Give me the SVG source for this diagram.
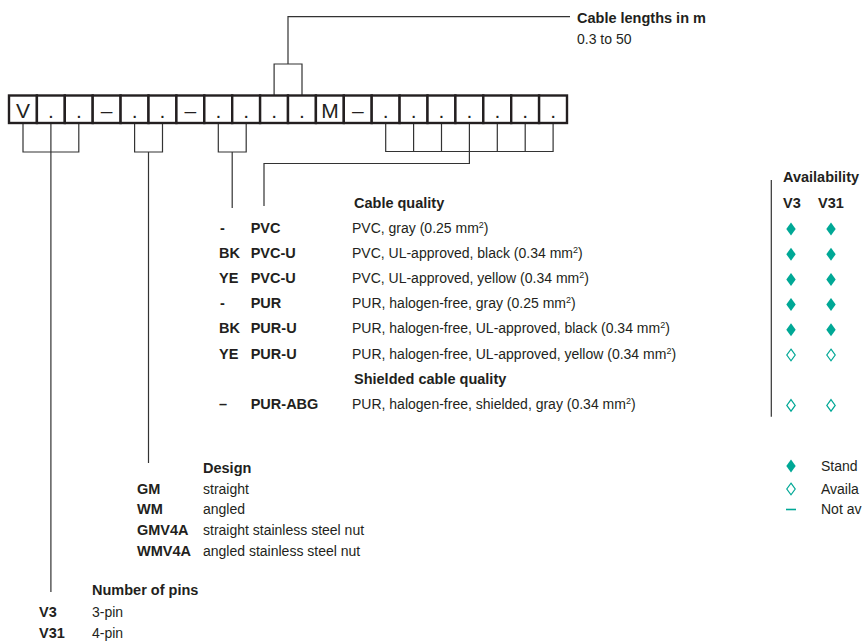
<svg xmlns="http://www.w3.org/2000/svg" xmlns:xlink="http://www.w3.org/1999/xlink" width="863" height="641" viewBox="0 0 863 641">
<style>
text{font-family:"Liberation Sans",Arial,sans-serif;fill:#231f20}
.r{font-size:14px}
.b{font-size:14.5px;font-weight:bold}
.box{font-size:21px;text-anchor:middle}
.cell{fill:#fff;stroke:#231f20;stroke-width:2.4}
.ln{fill:none;stroke:#333;stroke-width:1.2}
.sup{font-size:9px}
.teal{fill:#00a896}
.open{fill:#fff;stroke:#00a896;stroke-width:1.2}
</style>
<defs>
<path id="dia" d="M0,-6.5 L4.7,0 L0,6.5 L-4.7,0 Z"/>
<path id="odia" d="M0,-5.8 L4.2,0 L0,5.8 L-4.2,0 Z"/>
</defs>
<rect width="863" height="641" fill="#fff"/>

<g id="connectors" class="ln">
<path d="M23,124 V152 H78.8 V124 M50.9,124 V592"/>
<path d="M134.6,124 V152 H162.5 V124 M148.5,152 V463"/>
<path d="M218.3,124 V152 H246.2 V124 M232.2,152 V208"/>
<path d="M385.7,124 V151.5 H553.1 V124 M413.6,124 V151.5 M441.5,124 V151.5 M469.4,124 V163.5 H264 V206 M497.3,124 V151.5 M525.2,124 V151.5"/>
<path d="M274.1,95 V64 H302 V95 M288,64 V16.7 H570"/>
<path d="M771.3,180 V416.7"/>
</g>

<g id="code-row">
<rect class="cell" x="9" y="95.5" width="27.9" height="27.5"/>
<rect class="cell" x="36.9" y="95.5" width="27.9" height="27.5"/>
<rect class="cell" x="64.8" y="95.5" width="27.9" height="27.5"/>
<rect class="cell" x="92.7" y="95.5" width="27.9" height="27.5"/>
<rect class="cell" x="120.6" y="95.5" width="27.9" height="27.5"/>
<rect class="cell" x="148.5" y="95.5" width="27.9" height="27.5"/>
<rect class="cell" x="176.4" y="95.5" width="27.9" height="27.5"/>
<rect class="cell" x="204.3" y="95.5" width="27.9" height="27.5"/>
<rect class="cell" x="232.2" y="95.5" width="27.9" height="27.5"/>
<rect class="cell" x="260.1" y="95.5" width="27.9" height="27.5"/>
<rect class="cell" x="288" y="95.5" width="27.9" height="27.5"/>
<rect class="cell" x="315.9" y="95.5" width="27.9" height="27.5"/>
<rect class="cell" x="343.8" y="95.5" width="27.9" height="27.5"/>
<rect class="cell" x="371.7" y="95.5" width="27.9" height="27.5"/>
<rect class="cell" x="399.6" y="95.5" width="27.9" height="27.5"/>
<rect class="cell" x="427.5" y="95.5" width="27.9" height="27.5"/>
<rect class="cell" x="455.4" y="95.5" width="27.9" height="27.5"/>
<rect class="cell" x="483.3" y="95.5" width="27.9" height="27.5"/>
<rect class="cell" x="511.2" y="95.5" width="27.9" height="27.5"/>
<rect class="cell" x="539.1" y="95.5" width="27.9" height="27.5"/>
<text class="box" x="23" y="117.5">V</text>
<text class="box" x="50.9" y="117.5">.</text>
<text class="box" x="78.8" y="117.5">.</text>
<text class="box" x="106.7" y="117.5">–</text>
<text class="box" x="134.6" y="117.5">.</text>
<text class="box" x="162.5" y="117.5">.</text>
<text class="box" x="190.4" y="117.5">–</text>
<text class="box" x="218.3" y="117.5">.</text>
<text class="box" x="246.2" y="117.5">.</text>
<text class="box" x="274.1" y="117.5">.</text>
<text class="box" x="302" y="117.5">.</text>
<text class="box" x="329.9" y="117.5">M</text>
<text class="box" x="357.8" y="117.5">–</text>
<text class="box" x="385.7" y="117.5">.</text>
<text class="box" x="413.6" y="117.5">.</text>
<text class="box" x="441.5" y="117.5">.</text>
<text class="box" x="469.4" y="117.5">.</text>
<text class="box" x="497.3" y="117.5">.</text>
<text class="box" x="525.2" y="117.5">.</text>
<text class="box" x="553.1" y="117.5">.</text>
</g>

<g id="cable-lengths">
<text class="b" x="577" y="22.5">Cable lengths in m</text>
<text class="r" x="577" y="44">0.3 to 50</text>
</g>

<g id="cable-quality">
<text class="b" x="354" y="207.5">Cable quality</text>
<text class="b" x="220" y="232.5">-</text><text class="b" x="250.7" y="232.5">PVC</text>
<text class="r" x="352" y="232.5">PVC, gray (0.25 mm<tspan class="sup" dy="-5">2</tspan><tspan dy="5">)</tspan></text>
<text class="b" x="219" y="257.7">BK</text><text class="b" x="250.7" y="257.7">PVC-U</text>
<text class="r" x="352" y="257.7">PVC, UL-approved, black (0.34 mm<tspan class="sup" dy="-5">2</tspan><tspan dy="5">)</tspan></text>
<text class="b" x="219" y="282.9">YE</text><text class="b" x="250.7" y="282.9">PVC-U</text>
<text class="r" x="352" y="282.9">PVC, UL-approved, yellow (0.34 mm<tspan class="sup" dy="-5">2</tspan><tspan dy="5">)</tspan></text>
<text class="b" x="220" y="308.1">-</text><text class="b" x="250.7" y="308.1">PUR</text>
<text class="r" x="352" y="308.1">PUR, halogen-free, gray (0.25 mm<tspan class="sup" dy="-5">2</tspan><tspan dy="5">)</tspan></text>
<text class="b" x="219" y="333.3">BK</text><text class="b" x="250.7" y="333.3">PUR-U</text>
<text class="r" x="352" y="333.3">PUR, halogen-free, UL-approved, black (0.34 mm<tspan class="sup" dy="-5">2</tspan><tspan dy="5">)</tspan></text>
<text class="b" x="219" y="358.5">YE</text><text class="b" x="250.7" y="358.5">PUR-U</text>
<text class="r" x="352" y="358.5">PUR, halogen-free, UL-approved, yellow (0.34 mm<tspan class="sup" dy="-5">2</tspan><tspan dy="5">)</tspan></text>
<text class="b" x="354" y="383.7">Shielded cable quality</text>
<text class="b" x="219" y="408.9">–</text><text class="b" x="250.7" y="408.9">PUR-ABG</text>
<text class="r" x="352" y="408.9">PUR, halogen-free, shielded, gray (0.34 mm<tspan class="sup" dy="-5">2</tspan><tspan dy="5">)</tspan></text>
</g>

<g id="availability">
<text class="b" x="783" y="182.3">Availability</text>
<text class="b" x="783" y="207.5">V3</text>
<text class="b" x="818" y="207.5">V31</text>
<use href="#dia" class="teal" x="791" y="229"/><use href="#dia" class="teal" x="831" y="229"/>
<use href="#dia" class="teal" x="791" y="254.2"/><use href="#dia" class="teal" x="831" y="254.2"/>
<use href="#dia" class="teal" x="791" y="279.4"/><use href="#dia" class="teal" x="831" y="279.4"/>
<use href="#dia" class="teal" x="791" y="304.6"/><use href="#dia" class="teal" x="831" y="304.6"/>
<use href="#dia" class="teal" x="791" y="329.8"/><use href="#dia" class="teal" x="831" y="329.8"/>
<use href="#odia" class="open" x="791" y="355"/><use href="#odia" class="open" x="831" y="355"/>
<use href="#odia" class="open" x="791" y="405.4"/><use href="#odia" class="open" x="831" y="405.4"/>
</g>

<g id="legend">
<use href="#dia" class="teal" x="791" y="466"/>
<text class="r" x="821" y="470.5">Stand</text>
<use href="#odia" class="open" x="791" y="489"/>
<text class="r" x="821" y="493.5">Availa</text>
<path d="M786,509.5 H796" stroke="#00a896" stroke-width="1.6"/>
<text class="r" x="821" y="513.5">Not av</text>
</g>

<g id="design">
<text class="b" x="203" y="472.5">Design</text>
<text class="b" x="137" y="493.5">GM</text><text class="r" x="203" y="493.5">straight</text>
<text class="b" x="137" y="514">WM</text><text class="r" x="203" y="514">angled</text>
<text class="b" x="137" y="535">GMV4A</text><text class="r" x="203" y="535">straight stainless steel nut</text>
<text class="b" x="137" y="556">WMV4A</text><text class="r" x="203" y="556">angled stainless steel nut</text>
</g>

<g id="pins">
<text class="b" x="92" y="595">Number of pins</text>
<text class="b" x="39" y="617">V3</text><text class="r" x="92" y="617">3-pin</text>
<text class="b" x="39" y="638">V31</text><text class="r" x="92" y="638">4-pin</text>
</g>
</svg>
